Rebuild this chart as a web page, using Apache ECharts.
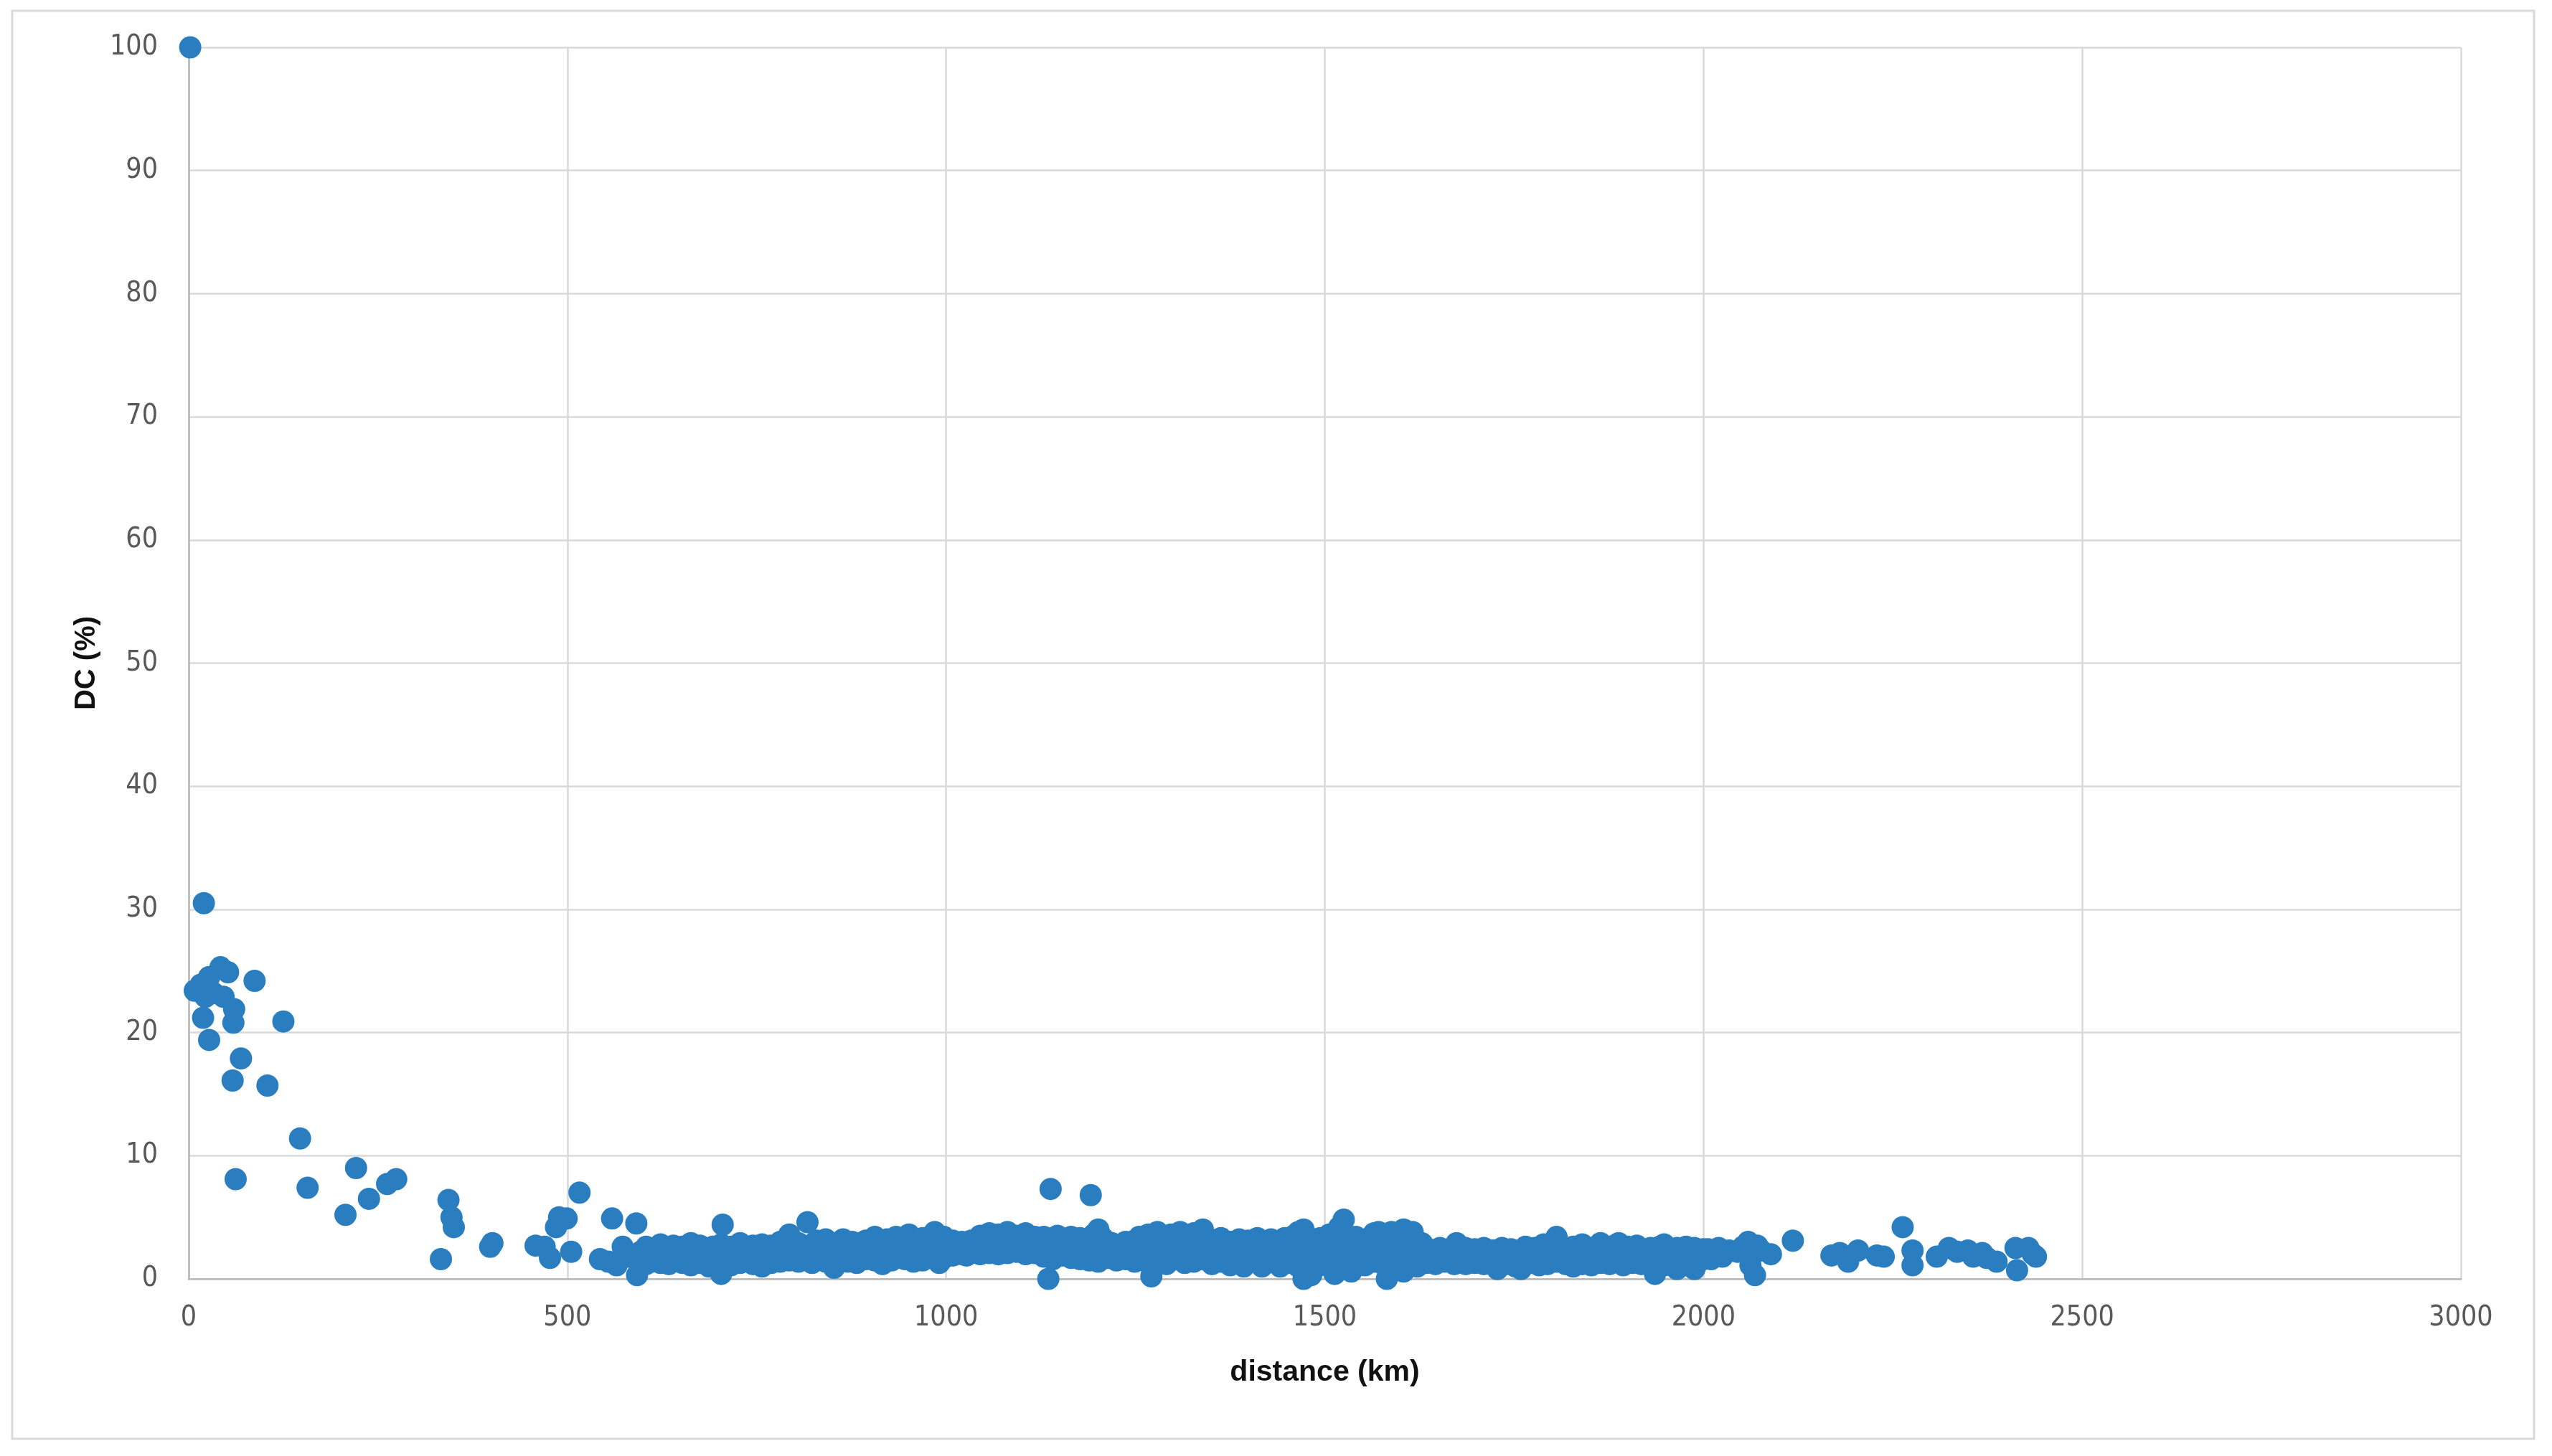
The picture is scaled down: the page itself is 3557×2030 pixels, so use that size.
<!DOCTYPE html>
<html>
<head>
<meta charset="utf-8">
<script src="https://cdn.jsdelivr.net/npm/echarts@6/dist/echarts.min.js"></script>
<style>
html,body{margin:0;padding:0;background:#fff;}
#chart{width:3557px;height:2030px;}
</style>
</head>
<body>
<div id="chart"></div>
<script>
// ---- axis ticks ----
const xTicks = [0, 500, 1000, 1500, 2000, 2500, 3000];
const yTicks = [0, 10, 20, 30, 40, 50, 60, 70, 80, 90, 100];

// ---- near-field points (0-600 km) ----
const nearKm = [2,20,42,52,27,16,8,33,46,22, 60,19,59,27,87,125,69,58,104,147,
  62,157,221,207,238,262,274,343,347,350, 333,398,401,458,470,477,489,499,485,505,
  516,559,591,543,554,565,573,592,580,597];
const nearDc = [100,30.5,25.3,24.9,24.5,23.9,23.4,23.2,22.9,22.9, 21.9,21.2,20.8,19.4,24.2,20.9,17.9,16.1,15.7,11.4,
  8.1,7.4,9.0,5.2,6.5,7.7,8.1,6.4,5.0,4.2, 1.6,2.6,2.9,2.7,2.6,1.7,5.0,4.9,4.2,2.2,
  7.0,4.9,4.5,1.6,1.4,1.1,2.6,0.3,1.8,2.2];

// ---- dense band 600-1000 km (DC values per distance) ----
const bandAKm = [600,604,611,617,623,629,634,640,646,652,658,663,669,675,681,687,692,698,703,705,
  710,716,722,728,734,740,745,751,757,763,769,775,781,787,793,799,
  805,811,817,823,829,835,841,847,852,858,864,870,876,882,888,894,900,
  906,912,916,922,928,934,940,946,951,957,963,969,975,981,985,991,997];
const bandADc = [[1.6,2.3],[1.2,2.0,2.6],[1.9,1.4],[2.5,1.7,2.1],[1.3,2.8],[2.2,1.6],[1.8,2.5,1.2],[2.0,2.7],[1.5,2.3],[1.9,1.3,2.6],
  [2.4,1.7],[1.1,2.1,2.9],[1.6,2.4],[2.0,1.3,2.7],[1.8,2.5],[1.4,2.2,1.0],[2.6,1.7],[2.0,1.2,2.5],[0.4,1.8,2.8],[4.4],
  [1.5,2.3],[1.1,2.0,2.6],[1.7,2.4],[1.3,2.1,2.9],[1.9,2.6],[1.4,2.2],[1.8,2.7,1.2],[2.3,1.6],[1.0,2.0,2.8],[1.5,2.4],
  [1.9,2.7,1.3],[2.2,1.6],[1.4,2.5,3.0],[1.8,2.3],[3.6,2.1,1.5],[1.7,2.6],
  [2.0,1.4,2.9],[2.5,1.8],[4.6,2.2,1.5],[1.9,2.8,1.3],[2.4,3.1],[1.6,2.1],[2.7,1.4,3.2],[2.0,2.5],[0.9,1.7,2.9],[2.3,1.5],
  [2.8,1.9,3.2],[1.4,2.4],[2.1,3.0,1.7],[2.6,1.3],[1.9,2.9],[2.3,1.6,3.1],[2.0,2.7],
  [1.5,2.4,3.4],[2.0,2.9],[1.2,2.6],[1.8,3.2,2.2],[2.7,1.5],[2.1,3.4,1.8],[2.5,3.0],[1.6,2.3,2.8],[3.6,2.0],[1.4,2.6,3.1],
  [2.2,1.8],[2.9,1.5,3.3],[2.4,2.0],[1.7,2.8,3.5],[3.8,2.3],[1.3,2.6,3.0],[2.0,1.7,3.4]];

// ---- dense band 1000-1510 km ----
const bandBKm = [1003,1009,1015,1021,1027,1033,1039,
  1045,1051,1057,1063,1069,1075,1081,1087,1093,1099,1105,1111,1117,
  1123,1129,1135,1138,1141,1147,1153,1159,1165,1171,1177,1183,1191,
  1189,1195,1201,1207,1213,1219,1225,1231,1237,1243,1249,1255,1261,
  1267,1271,1273,1279,1285,1291,1297,1303,1309,1315,1321,1327,1333,1339,1345,
  1351,1357,1363,1369,1375,1381,1387,1393,1399,1405,1411,1417,1423,1429,1435,1441,1447,1453,1459,
  1465,1472,1476,1482,1488,1494,1500,1506];
const bandBDc = [[2.3,2.9],[1.9,2.6,3.1],[2.2,2.8],[2.0,3.0,2.5],[2.4,1.9],[2.7,3.1,2.1],[2.3,2.9],
  [2.0,2.8,3.5],[2.5,3.2],[2.1,3.7,2.7],[2.4,3.0],[2.0,2.8,3.6],[3.3,2.3],[2.6,3.8,2.1],[3.0,2.4],[2.2,2.9,3.5],[2.6,3.2],[2.0,3.7,2.8],[2.4,3.1],[2.1,2.7,3.4],
  [2.5,3.0],[1.8,2.7,3.4],[0.0,2.3],[7.3],[1.6,3.1,2.6],[2.0,3.5],[2.4,1.9,2.9],[3.2,2.2],[1.7,2.6,3.4],[2.1,3.0],[2.5,1.6,3.3],[2.0,2.8],[6.8],
  [1.5,2.4,3.2],[2.0,3.6],[1.4,2.7,4.0],[2.2,3.3],[1.7,2.6,3.0],[2.0,2.9],[1.5,2.4],[2.1,2.8],[1.6,3.0,2.3],[1.9,2.6],[1.4,2.2,3.1],[2.5,3.4],[1.8,2.9],
  [1.3,2.4,3.6],[0.2],[2.0,3.0],[1.5,2.7,3.8],[2.2,3.3],[1.2,1.9,2.8],[2.5,3.6],[1.6,2.2,3.1],[2.8,3.8],[1.3,2.0,2.6],[3.2,1.8],[2.4,3.7,1.4],[2.1,2.9],[4.0,1.6,2.5],[3.3,2.0],
  [1.2,2.6,3.0],[2.2,1.7],[2.9,1.4,3.3],[2.0,2.5],[1.1,1.8,3.0],[2.4,2.8],[1.5,2.1,3.2],[1.0,2.6],[1.9,3.1,1.4],[2.3,2.8],[1.6,2.0,3.3],[1.0,2.5],[1.8,2.9,1.3],[2.2,3.2],[1.5,2.6],[1.0,2.0,3.0],[1.7,2.4,3.3],[1.3,2.8],[2.1,3.5,1.5],
  [1.0,2.5,3.8],[0.0,4.0,1.8],[2.9,1.3,3.5],[0.3,2.2],[1.7,3.0,2.6],[1.1,2.0,3.3],[2.4,1.5],[2.9,1.9,3.6]];

// ---- dense band 1510-2000 km ----
const bandCKm = [1513,1519,1525,1530,1535,1541,1547,1553,1559,1565,1571,1577,1582,1588,1594,1600,1604,1610,1616,1622,1628,
  1634,1640,1646,1652,1658,1664,1671,1674,1680,1686,1692,1698,
  1704,1710,1716,1722,1728,1734,1740,1746,1752,1759,1765,1771,1777,1783,1789,1794,1800,
  1806,1812,1818,1824,1828,1834,1840,1846,1852,1858,1864,1870,1876,1882,1888,1894,1900,
  1906,1912,1918,1924,1930,1936,1942,1948,1954,1960,1965,1971,1977,1983,1988,1994,2000];
const bandCDc = [[0.4,2.2],[1.4,3.1,4.2],[4.8,2.6],[1.8,3.5],[0.6,2.3],[1.2,2.9,3.4],[2.0,1.6],[2.6,3.2,1.1],[1.9,2.4],[1.4,3.0,3.7],
  [2.2,1.7,3.8],[2.7,1.2],[0.0,2.0,3.4],[1.5,3.8,2.5],[1.0,2.1,3.0],[2.8,1.6,3.7],[4.0,0.6],[2.3,1.3,3.2],[1.8,2.7,3.8],[1.0,2.2],[1.6,2.9],
  [1.3,2.0,2.5],[1.8,2.3],[1.2,2.1],[1.6,2.5,1.9],[2.2,1.4],[1.8,2.4],[1.2,2.0],[2.9],[1.5,2.3],[1.9,1.2,2.5],[2.1,1.6],[1.3,2.4],
  [1.8,2.2],[1.2,2.5],[1.6,2.0],[2.3,1.3],[0.8,1.9],[1.5,2.5],[2.1,1.2],[1.7,2.4],[1.0,2.0],[0.8,2.3,1.5],[1.9,2.6],[1.3,2.2],[1.7,2.5],[1.1,2.0],[1.6,2.8],[1.2,2.3],[1.8,2.6],
  [3.4,1.4,2.2],[1.9,2.7],[1.2,2.4],[1.7,2.1],[1.0,2.6],[1.5,2.3],[2.0,2.8,1.2],[1.6,2.4],[1.1,2.0],[1.8,2.6],[1.3,2.2,2.9],[1.7,2.5],[1.2,2.1],[1.9,2.7],[1.4,2.3,2.9],[1.1,2.0],[1.6,2.6],
  [2.2,1.3],[1.8,2.7],[1.2,2.4],[1.6,2.1],[2.5,1.3],[0.4,1.9],[1.5,2.6],[1.1,2.2,2.8],[1.7,2.4],[1.3,2.0],[0.8,2.5],[1.6,2.2],[1.1,2.6],[1.8,2.3],[0.8,2.5],[1.4,2.1],[1.9,2.4]];

// ---- sparse tail (> 2000 km) ----
const tailKm = [2006,2010,2015,2020,2025,2034,2045,2052,2059,2062,2068,2071,2076,2089,2118,
  2169,2180,2191,2204,2229,2238,2263,2276,2276,2308,2324,2335,2349,2356,2368,2374,2387,2412,2414,2429,2435,2439];
const tailDc = [2.4,1.6,2.1,2.5,1.8,2.3,2.2,2.6,3.0,1.1,0.3,2.7,2.3,2.0,3.1,
  1.9,2.1,1.4,2.3,1.9,1.8,4.2,2.3,1.1,1.8,2.5,2.2,2.3,1.8,2.1,1.7,1.4,2.5,0.7,2.5,2.0,1.8];

// ---- build point list ----
const points = [];
nearKm.forEach((k, i) => points.push([k, nearDc[i]]));
[[bandAKm, bandADc], [bandBKm, bandBDc], [bandCKm, bandCDc]].forEach(([ks, ds]) => {
  ks.forEach((k, i) => ds[i].forEach(d => points.push([k, d])));
});
tailKm.forEach((k, i) => points.push([k, tailDc[i]]));

const tickFont = "'Liberation Sans Narrow', 'DejaVu Sans Condensed', 'Liberation Sans', sans-serif";
const titleFont = "'Liberation Sans', Arial, sans-serif";

const chart = echarts.init(document.getElementById('chart'), null, {renderer: 'canvas'});
chart.setOption({
  animation: false,
  backgroundColor: '#ffffff',
  graphic: [{
    type: 'rect',
    shape: {x: 17, y: 15, width: 3515, height: 1991},
    style: {fill: 'none', stroke: '#d9d9d9', lineWidth: 3},
    silent: true
  }],
  grid: {left: 263, right: 127, top: 66, bottom: 247, containLabel: false},
  xAxis: {
    type: 'value',
    min: xTicks[0], max: xTicks[xTicks.length - 1], interval: xTicks[1] - xTicks[0],
    name: 'distance (km)', nameLocation: 'middle', nameGap: 110,
    nameTextStyle: {fontFamily: titleFont, fontWeight: 'bold', fontSize: 41, color: '#111'},
    axisLine: {show: true, lineStyle: {color: '#bfbfbf', width: 3}},
    axisTick: {show: false},
    axisLabel: {fontFamily: tickFont, fontSize: 39, color: '#595959', margin: 35,
      formatter: v => String(v)},
    splitLine: {show: true, lineStyle: {color: '#d9d9d9', width: 2.5}}
  },
  yAxis: {
    type: 'value',
    min: yTicks[0], max: yTicks[yTicks.length - 1], interval: yTicks[1] - yTicks[0],
    name: 'DC (%)', nameLocation: 'middle', nameGap: 122, nameRotate: 90,
    nameTextStyle: {fontFamily: titleFont, fontWeight: 'bold', fontSize: 40, color: '#111'},
    axisLine: {show: true, lineStyle: {color: '#bfbfbf', width: 3}},
    axisTick: {show: false},
    axisLabel: {fontFamily: tickFont, fontSize: 39, color: '#595959', margin: 43,
      formatter: v => String(v)},
    splitLine: {show: true, lineStyle: {color: '#d9d9d9', width: 2.5}}
  },
  series: [{
    type: 'scatter',
    data: points,
    symbol: 'circle',
    symbolSize: 31,
    itemStyle: {color: '#2a7ebf', opacity: 1},
    z: 3
  }]
});
</script>
</body>
</html>
